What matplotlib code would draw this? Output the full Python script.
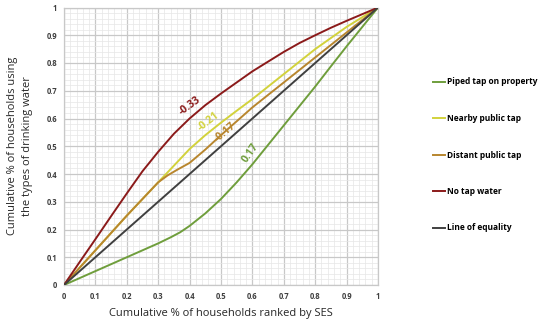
import matplotlib
matplotlib.use("Agg")
import matplotlib.pyplot as plt
from matplotlib.ticker import MultipleLocator

plt.rcParams['font.family'] = ['Open Sans', 'DejaVu Sans']

x_piped = [0, 0.05, 0.1, 0.15, 0.2, 0.25, 0.3, 0.34, 0.37, 0.4, 0.45, 0.5, 0.55, 0.6, 0.65, 0.7, 0.75, 0.8, 0.85, 0.9, 0.95, 1.0]
y_piped = [0, 0.025, 0.05, 0.075, 0.10, 0.125, 0.15, 0.172, 0.19, 0.213, 0.258, 0.31, 0.37, 0.435, 0.505, 0.575, 0.645, 0.715, 0.788, 0.86, 0.93, 1.0]

x_nearby = [0, 0.1, 0.2, 0.3, 0.35, 0.4, 0.45, 0.5, 0.55, 0.6, 0.65, 0.7, 0.75, 0.8, 0.85, 0.9, 0.95, 1.0]
y_nearby = [0, 0.125, 0.25, 0.37, 0.43, 0.49, 0.54, 0.585, 0.628, 0.67, 0.715, 0.76, 0.805, 0.85, 0.89, 0.93, 0.965, 1.0]

x_distant = [0, 0.1, 0.2, 0.3, 0.33, 0.36, 0.4, 0.45, 0.5, 0.55, 0.6, 0.65, 0.7, 0.75, 0.8, 0.85, 0.9, 0.95, 1.0]
y_distant = [0, 0.125, 0.25, 0.37, 0.395, 0.415, 0.44, 0.488, 0.54, 0.59, 0.64, 0.685, 0.73, 0.775, 0.82, 0.865, 0.91, 0.955, 1.0]

x_notap = [0, 0.05, 0.1, 0.15, 0.2, 0.25, 0.3, 0.35, 0.4, 0.45, 0.5, 0.55, 0.6, 0.65, 0.7, 0.75, 0.8, 0.85, 0.9, 0.95, 1.0]
y_notap = [0, 0.083, 0.165, 0.248, 0.33, 0.41, 0.48, 0.545, 0.60, 0.648, 0.69, 0.73, 0.77, 0.805, 0.84, 0.872, 0.90, 0.927, 0.952, 0.976, 1.0]

x_equal = [0, 1]
y_equal = [0, 1]

labels = ["Piped tap on property", "Nearby public tap", "Distant public tap",
          "No tap water", "Line of equality"]
colors = ["#6f9e3c", "#d2d23c", "#b8862e", "#8b1a1a", "#404040"]

annot_text = ["-0.33", "-0.21", "-0.17", "0.17"]
annot_pos = [(0.40, 0.645), (0.46, 0.59), (0.515, 0.55), (0.595, 0.475)]
annot_rot = [36, 38, 40, 55]
annot_col = [colors[3], colors[1], colors[2], colors[0]]

fig = plt.figure(figsize=(5.5, 3.21), dpi=100)
ax = fig.add_axes([64/550, 1-285/321, 314/550, 277.5/321])

series = [(x_piped, y_piped), (x_nearby, y_nearby), (x_distant, y_distant),
          (x_notap, y_notap), (x_equal, y_equal)]
handles = []
for (xs, ys), lab, c in zip(series, labels, colors):
    h, = ax.plot(xs, ys, color=c, lw=1.4, label=lab, solid_joinstyle='round', zorder=3)
    handles.append(h)

for t, (px, py), r, c in zip(annot_text, annot_pos, annot_rot, annot_col):
    ax.text(px, py, t, color=c, rotation=r, fontsize=7.5, fontweight='bold',
            ha='center', va='center', rotation_mode='anchor', zorder=4)

ax.set_xlim(0, 1)
ax.set_ylim(0, 1)
ax.xaxis.set_major_locator(MultipleLocator(0.1))
ax.yaxis.set_major_locator(MultipleLocator(0.1))
ax.xaxis.set_minor_locator(MultipleLocator(0.02))
ax.yaxis.set_minor_locator(MultipleLocator(0.02))
ax.grid(which='major', color='#c8c8c8', lw=0.9, zorder=0)
ax.grid(which='minor', color='#e6e6e6', lw=0.5, zorder=0)
ax.set_axisbelow(True)
for s in ax.spines.values():
    s.set_color('#c8c8c8')
    s.set_linewidth(0.9)

ticks = [0, 0.1, 0.2, 0.3, 0.4, 0.5, 0.6, 0.7, 0.8, 0.9, 1]
ticklabels = ["0", "0.1", "0.2", "0.3", "0.4", "0.5", "0.6", "0.7", "0.8", "0.9", "1"]
ax.set_xticks(ticks)
ax.set_xticklabels(ticklabels)
ax.set_yticks(ticks)
ax.set_yticklabels(ticklabels)
ax.tick_params(which='both', length=0, labelsize=5.5, labelcolor='#404040', pad=5)
for lab in ax.get_xticklabels() + ax.get_yticklabels():
    lab.set_fontweight('bold')

ax.set_xlabel("Cumulative % of households ranked by SES", fontsize=8, color='#262626', labelpad=5)
ax.set_ylabel("Cumulative % of households using\nthe types of drinking water", fontsize=8,
              color='#262626', labelpad=10, linespacing=1.4)

leg = fig.legend(handles=handles, labels=labels, loc='upper left',
                 bbox_to_anchor=(425/550, 1-70/321), frameon=False,
                 handlelength=1.5, handletextpad=0.2, labelspacing=3.3,
                 prop={'weight': 'bold', 'size': 6})

fig.savefig("out.png", dpi=100)
